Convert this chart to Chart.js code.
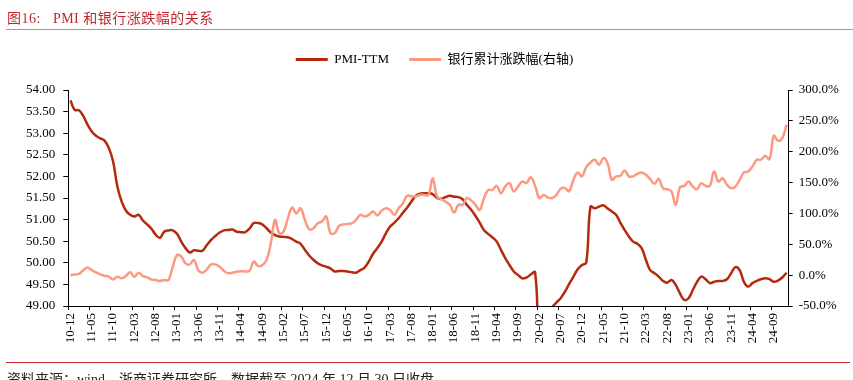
<!DOCTYPE html>
<html>
<head>
<meta charset="utf-8">
<script src="https://cdn.jsdelivr.net/npm/chart.js@4/dist/chart.umd.min.js"></script>
<style>
  html, body { margin: 0; padding: 0; background: #fff; }
  #wrap { position: relative; width: 853px; height: 380px; overflow: hidden; }
  #chart { position: absolute; left: 0; top: 0; }
  .title { position: absolute; left: 7px; top: 7px; font: 14px "Liberation Serif", "Noto Sans CJK SC", serif; color: #c0282e; white-space: pre; letter-spacing: 0.5px; }
  .rule-top { position: absolute; left: 6px; right: 0; top: 29px; height: 0; border-top: 1.5px solid #e27b7b; }
  .rule-bottom { position: absolute; left: 6px; right: 3px; top: 362px; height: 0; border-top: 1.5px solid #c0282e; }
  .source { position: absolute; left: 7px; top: 368px; font: 14px "Liberation Serif", "Noto Sans CJK SC", serif; color: #222; white-space: pre; }
</style>
</head>
<body>
<div id="wrap">
  <canvas id="chart" width="853" height="380"></canvas>
  <div class="title">图16:   PMI 和银行涨跌幅的关系</div>
  <div class="rule-top"></div>
  <div class="rule-bottom"></div>
  <div class="source">资料来源：wind，浙商证券研究所，数据截至 2024 年 12 月 30 日收盘</div>
</div>
<script>
// monthly categories, 2010-12 .. 2024-12
const startYear = 2010;
const startMonth = 12;
const monthCount = 169;
const labelStep = 5;

const months = [];
for (let k = 0; k < monthCount; k++) {
  const m = (startMonth - 1 + k) % 12 + 1;
  const y = startYear + Math.floor((startMonth - 1 + k) / 12);
  months.push(String(y % 100).padStart(2, "0") + "-" + String(m).padStart(2, "0"));
}

const pmiTtm = [
  53.76, 53.54, 53.53, 53.40, 53.20, 53.04, 52.94, 52.88, 52.83, 52.66,
  52.35, 51.77, 51.42, 51.21, 51.11, 51.07, 51.11, 50.98, 50.89, 50.79,
  50.65, 50.58, 50.72, 50.75, 50.75, 50.67, 50.49, 50.34, 50.24, 50.29,
  50.28, 50.28, 50.41, 50.53, 50.62, 50.70, 50.75, 50.76, 50.77, 50.72,
  50.71, 50.71, 50.79, 50.92, 50.92, 50.89, 50.80, 50.70, 50.64, 50.61,
  50.60, 50.59, 50.55, 50.49, 50.44, 50.30, 50.17, 50.07, 49.99, 49.94,
  49.91, 49.87, 49.80, 49.81, 49.81, 49.80, 49.78, 49.77, 49.83, 49.89,
  50.03, 50.21, 50.34, 50.49, 50.68, 50.84, 50.93, 51.03, 51.16, 51.28,
  51.42, 51.55, 51.60, 51.61, 51.61, 51.59, 51.50, 51.48, 51.52, 51.55,
  51.53, 51.52, 51.47, 51.34, 51.23, 51.09, 50.93, 50.76, 50.67, 50.59,
  50.49, 50.30, 50.11, 49.95, 49.80, 49.72, 49.64, 49.66, 49.73, 49.78,
  48.30, 48.50, 48.75, 48.97, 49.08, 49.18, 49.33, 49.51, 49.68, 49.85,
  49.95, 50.00, 51.30, 51.26, 51.30, 51.33, 51.26, 51.19, 51.11, 50.93,
  50.76, 50.61, 50.49, 50.44, 50.34, 50.07, 49.83, 49.76, 49.68, 49.58,
  49.54, 49.60, 49.49, 49.29, 49.14, 49.18, 49.37, 49.56, 49.68, 49.62,
  49.53, 49.56, 49.58, 49.58, 49.62, 49.76, 49.90, 49.83, 49.56, 49.45,
  49.53, 49.58, 49.62, 49.64, 49.62, 49.56, 49.59, 49.66, 49.77
];

const bankCum = [
  0, 1, 2, 8, 12.5, 8, 4.5, 1.3, -1, -2.5,
  -7, -2.5, -5, -1.5, 4.5, -2.5, 4, -1.5, -3.5, -7,
  -8, -9.5, -8, -8, 13.5, 32.5, 30, 19, 17.5, 24.5,
  8, 4, 9.5, 17.5, 17.5, 13.5, 7, 3, 4, 5.5,
  6.5, 6, 7, 22, 15, 16, 24.5, 51.5, 89.5, 68,
  70.5, 92, 109.5, 100, 108.5, 89.5, 74.4, 76, 84, 86.8,
  95, 68, 68, 80, 82, 83, 84, 89.5, 97.6, 95,
  97.6, 103, 96.5, 104.6, 108.5, 105.7, 97.6, 108.5, 116.6, 128.5,
  127.5, 127.5, 130, 130, 130, 157, 127.5, 123, 119, 114,
  101.4, 114, 114, 124.7, 121, 114, 105.7, 124.7, 138, 138,
  144.7, 132.8, 143.6, 149, 135.5, 143.6, 151.7, 149, 158.8, 144.7,
  124.7, 130, 125.7, 124.7, 130, 140, 141, 136, 154.5, 166.4,
  160, 175, 182.6, 187, 178.8, 189.6, 181.5, 154.5, 160, 161,
  169.6, 160, 160, 164.2, 166.4, 162.6, 155.5, 148, 156, 141,
  139.3, 135.5, 114, 142.5, 144.7, 151.7, 143.6, 139.3, 149, 144.7,
  144.7, 168, 151.7, 157, 146.3, 141, 143.6, 154.5, 166.4, 168,
  176, 187, 187, 193.4, 188, 226, 217.8, 222, 243.7
];

const FONT = "'Liberation Serif', 'Noto Sans CJK SC', serif";

// legend sits higher than chart.js would place it
const legendNudge = {
  id: "legendNudge",
  afterLayout(chart) {
    const lg = chart.legend;
    lg.top -= 14;
    lg.bottom -= 14;
    lg.left += 8;
    lg.right += 8;
  }
};

new Chart(document.getElementById("chart"), {
  type: "line",
  data: {
    labels: months,
    datasets: [
      {
        label: "PMI-TTM",
        data: pmiTtm,
        yAxisID: "y",
        borderColor: "#b52a0c",
        borderWidth: 2.5,
        pointRadius: 0,
        tension: 0.4,
        clip: 0,
        order: 1
      },
      {
        label: "银行累计涨跌幅(右轴)",
        data: bankCum,
        yAxisID: "y1",
        borderColor: "#fb9a80",
        borderWidth: 2.5,
        pointRadius: 0,
        tension: 0.4,
        clip: 0,
        order: 0
      }
    ]
  },
  options: {
    responsive: false,
    animation: false,
    devicePixelRatio: 1,
    layout: { padding: { top: 47, bottom: 25, left: 0, right: 0 } },
    plugins: {
      tooltip: { enabled: false },
      legend: {
        position: "top",
        labels: {
          boxWidth: 32,
          boxHeight: 3,
          padding: 20,
          color: "#000",
          font: { family: FONT, size: 13 },
          sort: (a, b) => a.datasetIndex - b.datasetIndex,
          generateLabels: (chart) => chart.data.datasets.map((ds, i) => ({
            text: ds.label,
            fillStyle: ds.borderColor,
            strokeStyle: ds.borderColor,
            lineWidth: 0,
            fontColor: "#000",
            hidden: false,
            datasetIndex: i
          }))
        }
      }
    },
    scales: {
      x: {
        offset: true,
        afterFit: (scale) => { scale.height = 49; },
        border: { display: true, color: "#000", width: 1 },
        grid: {
          offset: true,
          drawOnChartArea: false,
          drawTicks: true,
          tickLength: 4,
          tickColor: (ctx) => (ctx.index % labelStep === 0 ? "#000" : "rgba(0,0,0,0)")
        },
        ticks: {
          autoSkip: false,
          minRotation: 90,
          maxRotation: 90,
          padding: 3,
          color: "#000",
          font: { family: FONT, size: 13 },
          callback: (value, index) => (index % labelStep === 0 ? months[index] : "")
        }
      },
      y: {
        position: "left",
        min: 49,
        max: 54,
        afterFit: (scale) => { scale.width = 68.3; },
        border: { display: true, color: "#000", width: 1 },
        grid: { drawOnChartArea: false, tickLength: 5, color: "#000" },
        ticks: {
          stepSize: 0.5,
          padding: 8,
          color: "#000",
          font: { family: FONT, size: 13 },
          callback: (value) => value.toFixed(2)
        }
      },
      y1: {
        position: "right",
        min: -50,
        max: 300,
        afterFit: (scale) => { scale.width = 64.3; },
        border: { display: true, color: "#000", width: 1 },
        grid: { drawOnChartArea: false, tickLength: 4, color: "#000" },
        ticks: {
          stepSize: 50,
          padding: 6,
          color: "#000",
          font: { family: FONT, size: 13 },
          callback: (value) => value.toFixed(1) + "%"
        }
      }
    }
  },
  plugins: [legendNudge]
});
</script>
</body>
</html>
